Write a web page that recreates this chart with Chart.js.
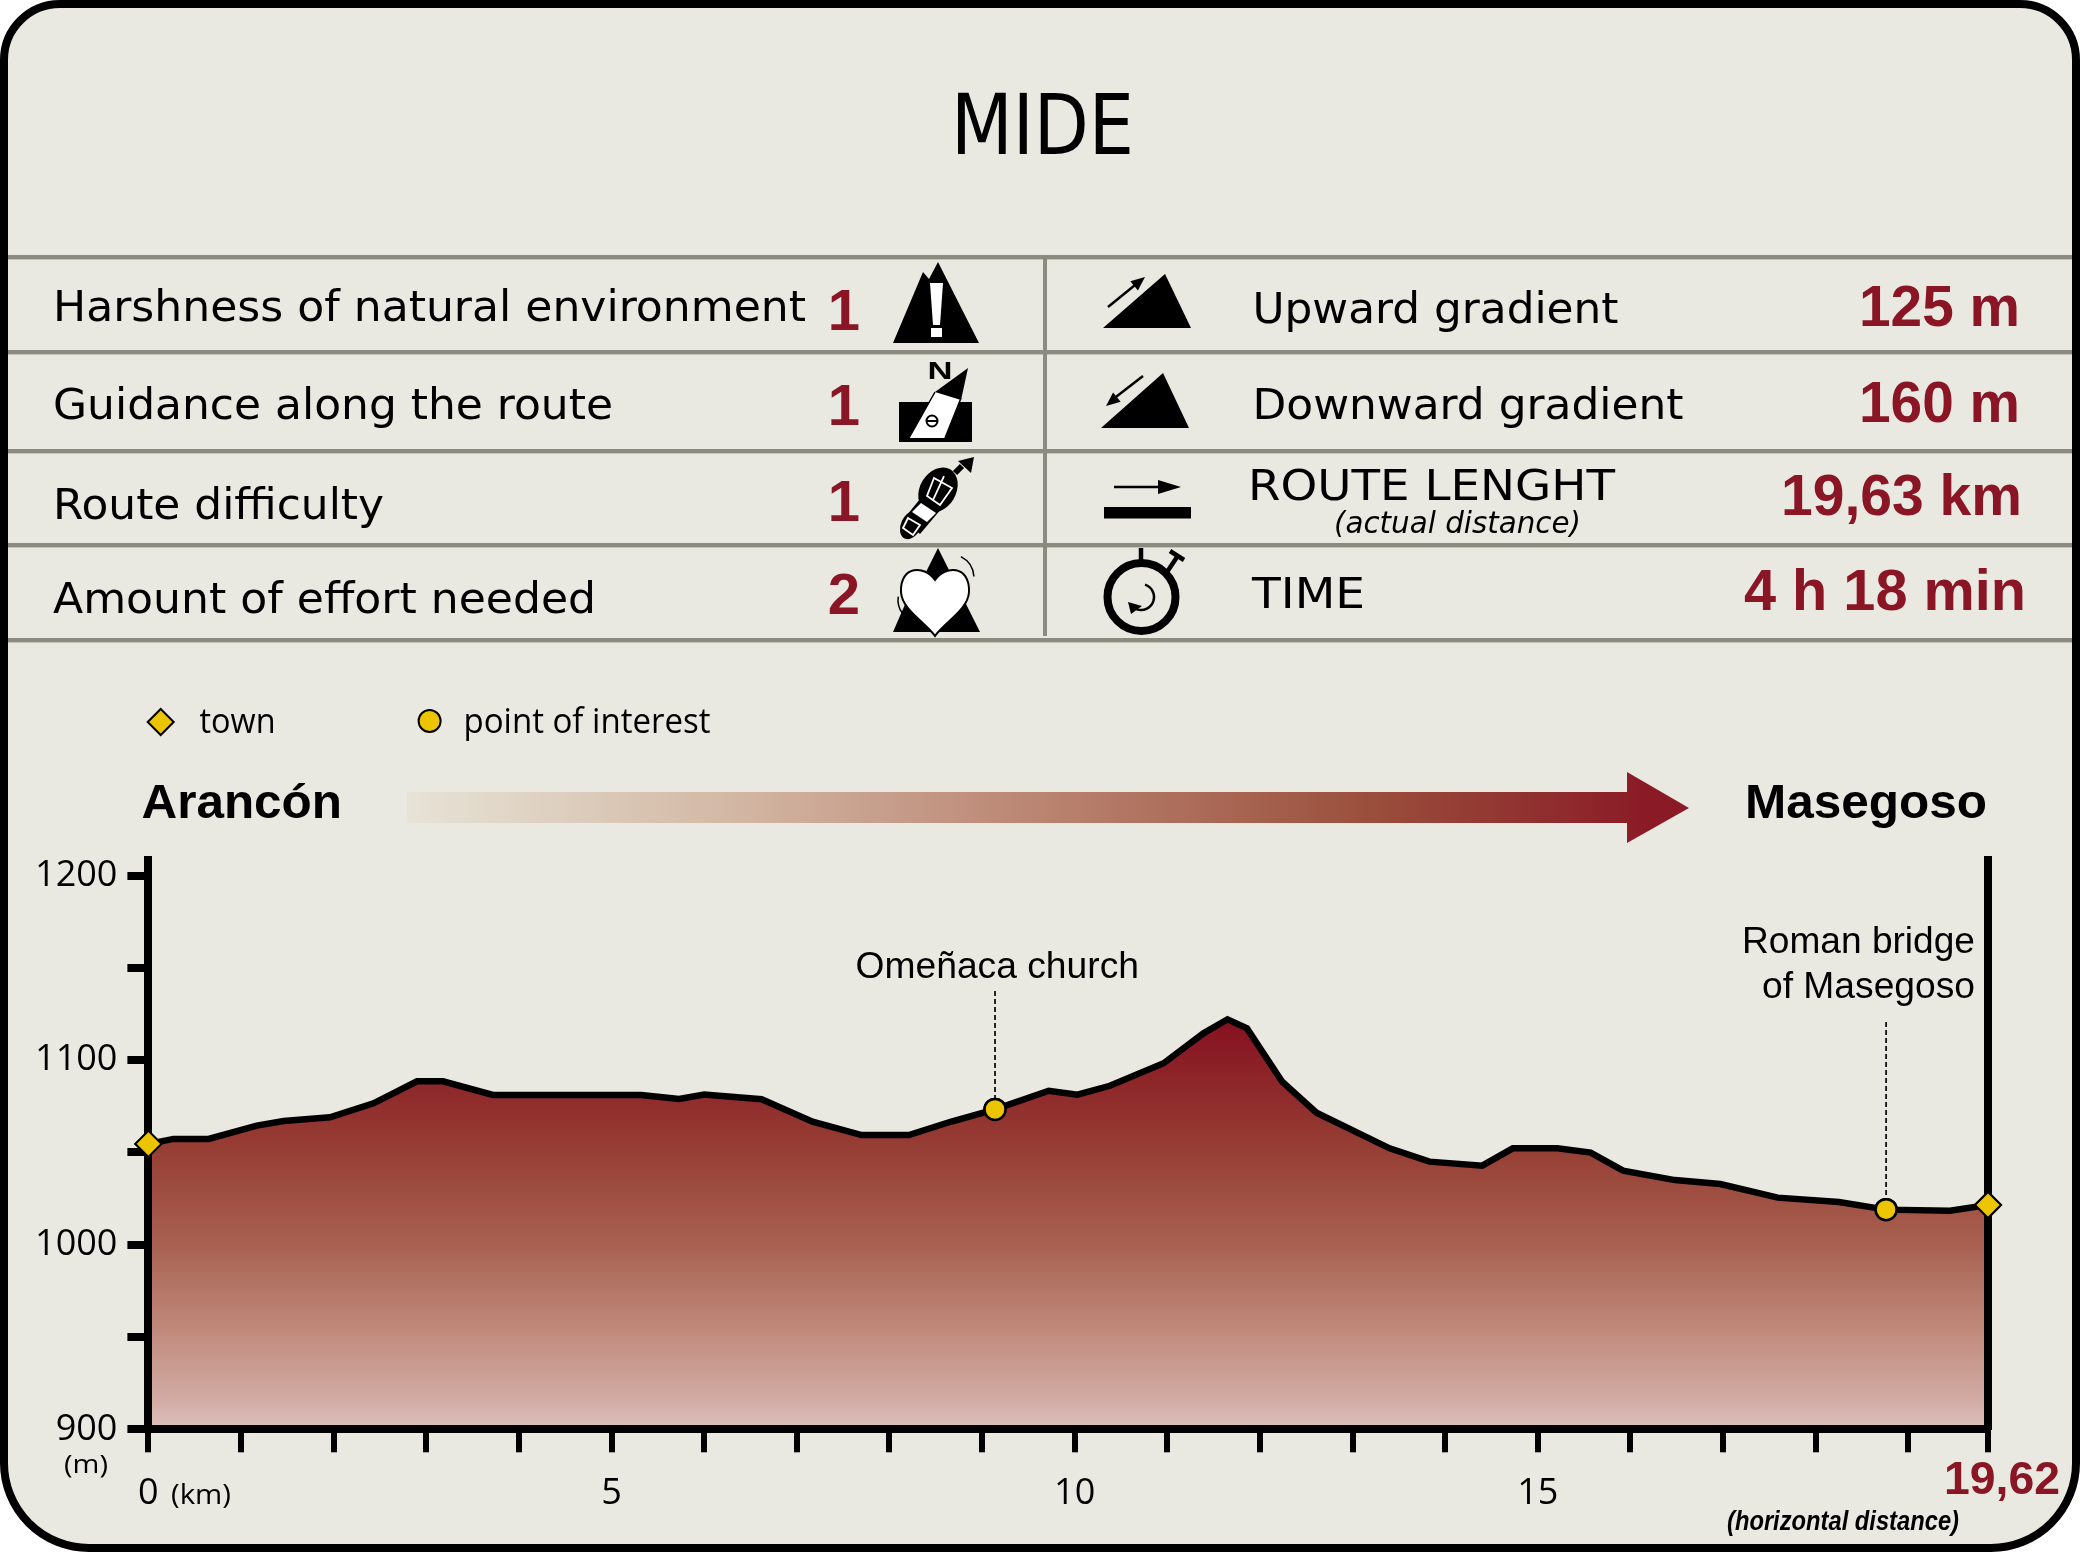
<!DOCTYPE html>
<html>
<head>
<meta charset="utf-8">
<script src="https://cdn.jsdelivr.net/npm/chart.js@4"></script>
<style>html,body{margin:0;padding:0;background:#fff}canvas{display:block}</style>
</head>
<body>
<canvas id="c" width="2080" height="1552"></canvas>
<script>
// ---- data ----
const distanceKm = [0,0.27,0.65,1.17,1.46,1.96,2.43,2.90,3.18,3.72,5.32,5.73,6.00,6.62,7.17,7.70,8.21,8.66,9.14,9.72,10.03,10.38,10.96,11.39,11.65,11.86,12.24,12.61,13.40,13.83,14.40,14.73,15.21,15.57,15.92,16.48,16.97,17.59,18.25,18.76,19.45,19.86];
const elevationM = [1054.6,1057.3,1057.3,1064.5,1067,1069,1076.6,1088.5,1088.5,1081.1,1081.1,1078.9,1081.3,1078.8,1066.6,1059.4,1059.4,1066.6,1073.3,1083.4,1081.3,1086.1,1098.3,1114.5,1122.1,1117.2,1088.3,1071.5,1052.2,1045,1042.8,1052.2,1052.2,1049.9,1040.1,1035,1032.9,1025.5,1023.1,1019,1018.4,1021.5];
const townKm = [0,19.86];
const townM = [1054.6,1021.5];
const poiKm = [9.14,18.76];
const poiM = [1073.3,1019];
const xTickValues = [0,1,2,3,4,5,6,7,8,9,10,11,12,13,14,15,16,17,18,19,19.86];
const xTickLabels = ['0','','','','','5','','','','','10','','','','','15','','','','',''];
const xEndLabel = '19,62';
const yMin = 900, yMax = 1208.4, yStep = 50, yLabelStep = 100;
const leftRows = ['Harshness of natural environment','Guidance along the route','Route difficulty','Amount of effort needed'];
const leftScores = ['1','1','1','2'];
const rightRows = ['Upward gradient','Downward gradient','ROUTE LENGHT','TIME'];
const rightValues = ['125 m','160 m','19,63 km','4 h 18 min'];

const RED = '#8a1525', BG = '#e9e9e1', GREY = '#8b8b80', GOLD = '#edc400';
const SANS = '"DejaVu Sans"', ARIAL = '"Liberation Sans"', MYR = '"Open Sans"';

function txt(ctx, s, x, y, font, color, w, align) {
  ctx.save();
  ctx.font = font; ctx.fillStyle = color || '#000';
  ctx.textBaseline = 'alphabetic';
  ctx.textAlign = 'left';
  const m = ctx.measureText(s).width;
  const k = w ? w / m : 1, rw = m * k;
  const left = align === 'center' ? x - rw / 2 : align === 'right' ? x - rw : x;
  ctx.translate(left, y); ctx.scale(k, 1);
  ctx.fillText(s, 0, 0);
  ctx.restore();
}
function poly(ctx, pts, fill) {
  ctx.beginPath();
  pts.forEach((p, i) => i ? ctx.lineTo(p[0], p[1]) : ctx.moveTo(p[0], p[1]));
  ctx.closePath(); ctx.fillStyle = fill || '#000'; ctx.fill();
}
function seg(ctx, a, b, lw, color) {
  ctx.beginPath(); ctx.moveTo(a[0], a[1]); ctx.lineTo(b[0], b[1]);
  ctx.lineWidth = lw; ctx.strokeStyle = color || '#000'; ctx.stroke();
}
function arrowHead(ctx, a, b, len, half) {
  const t = Math.atan2(b[1] - a[1], b[0] - a[0]);
  const c = [b[0] - len * Math.cos(t), b[1] - len * Math.sin(t)];
  const nx = -Math.sin(t) * half, ny = Math.cos(t) * half;
  poly(ctx, [b, [c[0] + nx, c[1] + ny], [c[0] - nx, c[1] - ny]]);
}
function icons(ctx) {
  ctx.lineCap = 'butt';
  // harshness
  poly(ctx, [[893,343],[923,272],[929,279],[938,262],[979,343]]);
  poly(ctx, [[930,283],[943,283],[940,325],[933,325]], '#fff');
  ctx.fillStyle = '#fff'; ctx.fillRect(931,328,11,9);
  // guidance
  ctx.fillStyle = '#000'; ctx.fillRect(899,402,73,40);
  poly(ctx, [[935,392],[961,398],[945,438],[909,438]], '#fff');
  ctx.lineWidth = 1.5; ctx.strokeStyle = '#000';
  ctx.beginPath(); ctx.moveTo(935,392); ctx.lineTo(909,438); ctx.moveTo(961,398); ctx.lineTo(945,438); ctx.stroke();
  poly(ctx, [[968,368],[961,400],[935,392]]);
  ctx.beginPath(); ctx.arc(932,421,5.5,0,Math.PI*2); ctx.lineWidth = 2; ctx.stroke();
  seg(ctx,[927,421],[937,421],2);
  txt(ctx,'N',940,379,'bold 24px '+ARIAL,'#000',25,'center');
  // route difficulty (boot sole)
  ctx.fillStyle = '#000';
  ctx.beginPath(); ctx.ellipse(938,490,24,18,-Math.PI*0.33,0,Math.PI*2); ctx.fill();
  ctx.beginPath(); ctx.ellipse(911,525,15,10,-Math.PI*0.36,0,Math.PI*2); ctx.fill();
  poly(ctx, [[924,494],[942,508],[920,534],[903,520]]);
  ctx.strokeStyle = '#fff'; ctx.lineWidth = 1.8;
  ctx.beginPath();
  ctx.moveTo(934,478); ctx.lineTo(952,488); ctx.lineTo(940,505); ctx.lineTo(927,496); ctx.closePath();
  ctx.moveTo(944,476); ctx.lineTo(933,500);
  ctx.moveTo(908,518); ctx.lineTo(920,525); ctx.lineTo(913,535); ctx.lineTo(903,528); ctx.closePath();
  ctx.stroke();
  poly(ctx, [[921,503],[936,513],[927,522],[912,512]], '#fff');
  seg(ctx,[955,473],[962,466],6);
  poly(ctx, [[974,457],[971,473],[958,461]]);
  // effort
  poly(ctx, [[893,632],[920,570],[926,572],[938,548],[980,632]]);
  ctx.beginPath();
  ctx.moveTo(935,580);
  ctx.bezierCurveTo(925,565,900,565,901,592);
  ctx.bezierCurveTo(902,610,925,622,935,636);
  ctx.bezierCurveTo(945,622,968,610,969,592);
  ctx.bezierCurveTo(970,565,945,565,935,580);
  ctx.closePath(); ctx.fillStyle = '#fff'; ctx.fill(); ctx.lineWidth = 2; ctx.strokeStyle = '#000'; ctx.stroke();
  ctx.lineWidth = 1.5;
  ctx.beginPath(); ctx.arc(950,578,24,-Math.PI*0.35,-Math.PI*0.02); ctx.stroke();
  ctx.beginPath(); ctx.arc(920,600,22,Math.PI*0.8,Math.PI*1.05); ctx.stroke();
  // upward
  poly(ctx, [[1165,274],[1103,328],[1191,328]]);
  seg(ctx,[1108,307],[1140,281],2.5); arrowHead(ctx,[1108,307],[1145,277],14,6);
  // downward
  poly(ctx, [[1163,373],[1101,428],[1189,428]]);
  seg(ctx,[1143,376],[1112,400],2.5); arrowHead(ctx,[1143,376],[1106,406],14,6);
  // length
  seg(ctx,[1114,487],[1160,487],2.5);
  poly(ctx, [[1181,487],[1158,480],[1158,494]]);
  ctx.fillStyle = '#000'; ctx.fillRect(1104,507,87,11.5);
  // stopwatch
  ctx.strokeStyle = '#000'; ctx.lineWidth = 8;
  ctx.beginPath(); ctx.arc(1141.5,597,34,0,Math.PI*2); ctx.stroke();
  seg(ctx,[1141,548],[1141,560],4.5);
  seg(ctx,[1167,572],[1177,557],4.5);
  seg(ctx,[1170,551],[1184,560],4.5);
  ctx.lineWidth = 2.5;
  ctx.beginPath(); ctx.arc(1141,597,13,-Math.PI*0.4,Math.PI*0.75); ctx.stroke();
  poly(ctx, [[1128,602],[1142,606],[1131,614]]);
}
const panel = {
  id: 'panel',
  beforeDraw(chart) {
    const ctx = chart.ctx;
    ctx.save();
    ctx.beginPath();
    ctx.roundRect(4,4,2072,1544,[56,56,85,85]);
    ctx.fillStyle = BG; ctx.fill();
    ctx.lineWidth = 8; ctx.strokeStyle = '#000'; ctx.stroke();
    [257,352,451,545,640].forEach(y => { ctx.fillStyle = GREY; ctx.fillRect(8,y-2,2064,4.4); });
    ctx.fillStyle = GREY; ctx.fillRect(1043,257,4,379);
    txt(ctx,'MIDE',1042.5,154,'84px '+SANS,'#000',183,'center');
    // rows
    const LF = '42px '+SANS;
    const lw = [753,560,331,543], lb = [320.7,418.7,518.7,612.7];
    leftRows.forEach((s,i) => txt(ctx,s,53,lb[i],LF,'#000',lw[i]));
    const sb = [330,425,520.7,614], sx = [844,844,844,844];
    leftScores.forEach((s,i) => txt(ctx,s,sx[i],sb[i],'bold 58px '+ARIAL,RED,null,'center'));
    const rx = [1252.5,1252.5,1248,1252], rw = [366,431,367,113], rb = [322.7,419,499.7,608];
    rightRows.forEach((s,i) => txt(ctx,s,rx[i],rb[i],LF,'#000',rw[i]));
    txt(ctx,'(actual distance)',1334,532.7,'italic 30px '+SANS,'#000',247);
    const vx = [1859,1859,1781,1744], vw = [161,161,241,282], vb = [326,422,514.7,610];
    rightValues.forEach((s,i) => txt(ctx,s,vx[i],vb[i],'bold 57px '+ARIAL,RED,vw[i]));
    icons(ctx);
    // direction arrow
    const g = ctx.createLinearGradient(407,0,1689,0);
    g.addColorStop(0,'#e7e3d6'); g.addColorStop(.25,'#d3b8a5'); g.addColorStop(.5,'#b98370'); g.addColorStop(.75,'#9a4f3c'); g.addColorStop(.97,'#8a1a26'); g.addColorStop(1,'#8a1a26');
    poly(ctx,[[407,792],[1627,792],[1627,772],[1689,808],[1627,843],[1627,823],[407,823]],g);
    txt(ctx,'Arancón',141.5,818,'bold 49px '+ARIAL,'#000',200.5);
    txt(ctx,'Masegoso',1745,818,'bold 49px '+ARIAL,'#000',242);
    // legend
    txt(ctx,'town',199.5,733,'34px '+MYR,'#000',76);
    txt(ctx,'point of interest',463.5,733,'34px '+MYR,'#000',247);
    ctx.strokeStyle = '#000'; ctx.lineWidth = 2;
    ctx.fillStyle = GOLD; ctx.beginPath(); ctx.moveTo(160.7,709); ctx.lineTo(173.7,722); ctx.lineTo(160.7,735); ctx.lineTo(147.7,722); ctx.closePath(); ctx.fill(); ctx.stroke();
    ctx.beginPath(); ctx.arc(429.6,721,11,0,Math.PI*2); ctx.fill(); ctx.stroke();
    ctx.restore();
  },
  afterDraw(chart) {
    const ctx = chart.ctx, xs = chart.scales.x, ys = chart.scales.y;
    ctx.save();
    // callout leaders
    ctx.setLineDash([5,3]); ctx.lineWidth = 1.8; ctx.strokeStyle = '#111';
    const tops = [991,1022];
    poiKm.forEach((k,i) => {
      const px = xs.getPixelForValue(k), py = ys.getPixelForValue(poiM[i]);
      ctx.beginPath(); ctx.moveTo(px,tops[i]); ctx.lineTo(px,py); ctx.stroke();
    });
    ctx.setLineDash([]);
    // markers above the axes
    [1,2].forEach(i => chart.getDatasetMeta(i).data.forEach(p => p.draw(ctx)));
    txt(ctx,'Omeñaca church',855.5,978,'36px '+ARIAL,'#000',283.5);
    txt(ctx,'Roman bridge',1975,953,'36px '+ARIAL,'#000',233,'right');
    txt(ctx,'of Masegoso',1975,998,'36px '+ARIAL,'#000',213,'right');
    txt(ctx,'(m)',64,1473,'26px '+MYR,'#000',44);
    txt(ctx,'(km)',171,1504,'28px '+MYR,'#000',60);
    txt(ctx,xEndLabel,1944,1494,'bold 47px '+ARIAL,RED,116);
    txt(ctx,'(horizontal distance)',1727,1530,'italic bold 27px '+ARIAL,'#000',232);
    ctx.restore();
  }
};
const tickFont = {family:'Open Sans',size:36};
new Chart(document.getElementById('c'),{
  type:'line',
  plugins:[panel],
  data:{datasets:[
    {label:'Elevation',
     data:distanceKm.map((x,i)=>({x,y:elevationM[i]})),
     borderColor:'#000',borderWidth:6.5,pointRadius:0,tension:0,fill:'start',borderJoinStyle:'miter',
     backgroundColor(c){
       const a=c.chart.chartArea; if(!a) return '#8f2a2b';
       const top=c.chart.scales.y.getPixelForValue(Math.max(...elevationM));
       const g=c.chart.ctx.createLinearGradient(0,top,0,a.bottom);
       g.addColorStop(0,'#861020');g.addColorStop(.18,'#8f2a2b');g.addColorStop(.32,'#973f35');
       g.addColorStop(.55,'#a86150');g.addColorStop(.76,'#c08a7c');g.addColorStop(.93,'#d2aca5');g.addColorStop(1,'#dfc0bd');
       return g;
     }},
    {label:'town',data:townKm.map((x,i)=>({x,y:townM[i]})),showLine:false,clip:false,
     pointStyle:'rectRot',pointRadius:13,pointBackgroundColor:GOLD,pointBorderColor:'#000',pointBorderWidth:2},
    {label:'point of interest',data:poiKm.map((x,i)=>({x,y:poiM[i]})),showLine:false,clip:false,
     pointStyle:'circle',pointRadius:10.5,pointBackgroundColor:GOLD,pointBorderColor:'#000',pointBorderWidth:2.5}
  ]},
  options:{
    responsive:false,animation:false,devicePixelRatio:1,
    layout:{padding:{top:860,left:0,right:0,bottom:0}},
    plugins:{legend:{display:false},tooltip:{enabled:false},title:{display:false}},
    scales:{
      x:{type:'linear',min:0,max:xTickValues[xTickValues.length-1],
        afterBuildTicks(s){s.ticks=xTickValues.map(value=>({value}));},
        afterFit(s){s.height=1552-1429.3;},
        border:{display:true,color:'#000',width:8,z:1},
        grid:{drawOnChartArea:false,drawTicks:true,tickLength:23,tickWidth:6,tickColor:'#000',lineWidth:6,z:1},
        ticks:{autoSkip:false,maxRotation:0,minRotation:0,color:'#000',font:tickFont,padding:20,
          callback(v,i){return xTickLabels[i];}}},
      y:{type:'linear',position:'left',min:yMin,max:yMax,
        afterFit(s){s.width=148.4;},
        border:{display:true,color:'#000',width:8,z:1},
        grid:{drawOnChartArea:false,drawTicks:true,tickLength:21,tickWidth:8,tickColor:'#000',lineWidth:8,z:1},
        ticks:{stepSize:yStep,includeBounds:false,autoSkip:false,color:'#000',font:tickFont,padding:10,
          callback(v){return v%yLabelStep===0?String(v):'';}}},
      yR:{type:'linear',position:'right',display:true,min:yMin,max:yMax,
        afterFit(s){s.width=92;},
        border:{display:true,color:'#000',width:8,z:1},
        grid:{drawOnChartArea:false,drawTicks:false},
        ticks:{display:false}}
    }
  }
});
</script>
</body>
</html>
